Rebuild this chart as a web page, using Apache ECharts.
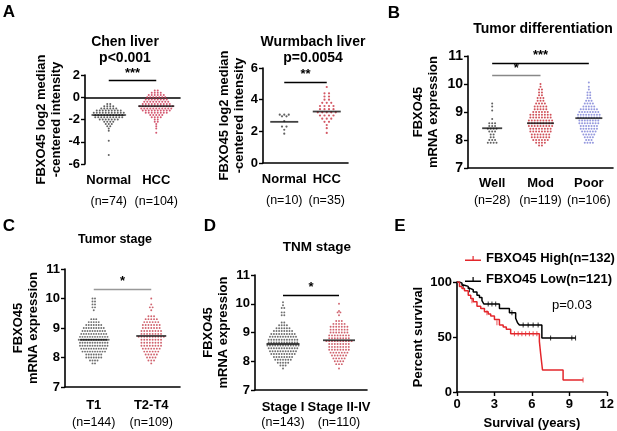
<!DOCTYPE html>
<html>
<head>
<meta charset="utf-8">
<script src="https://cdn.jsdelivr.net/npm/echarts@6/dist/echarts.min.js"></script>
<style>
  html, body { margin: 0; padding: 0; background: #fff; }
  #main { width: 617px; height: 431px; }
</style>
</head>
<body>
<div id="main"></div>
<script>
// ---- data ----
// dot groups: [value, number of dots at that level]
var chenNormal = [[-0.6,2],[-0.8,4],[-1.0,6],[-1.2,9],[-1.4,11],[-1.6,12],[-1.8,10],[-2.0,7],[-2.2,4],[-2.4,3],[-2.6,2],[-2.8,1],[-3.0,1],[-3.9,1],[-5.2,1]];
var chenHcc = [[0.6,2],[0.4,4],[0.2,6],[0.0,7],[-0.2,8],[-0.4,9],[-0.6,10],[-0.8,12],[-1.0,11],[-1.2,10],[-1.4,8],[-1.6,5],[-1.8,4],[-2.0,2],[-2.2,2],[-2.4,1],[-2.6,1],[-2.8,1],[-3.2,1]];
var chenMedian = [-1.6, -0.8];

var wurNormal = [[3.05,3],[2.95,2],[2.65,1],[2.3,2],[2.1,1],[1.85,1]];
var wurHcc = [[4.8,1],[4.4,2],[4.2,2],[4.0,2],[3.8,3],[3.6,4],[3.4,4],[3.2,5],[3.0,4],[2.8,3],[2.6,2],[2.4,1],[2.2,1],[1.9,1]];
var wurMedian = [2.6, 3.25];

var diffWell = [[9.3,1],[9.2,1],[9.05,1],[8.75,1],[8.6,3],[8.5,3],[8.4,4],[8.3,3],[8.2,2],[8.1,2],[8.0,3],[7.9,4]];
var diffMod = [[10.0,1],[9.9,1],[9.8,2],[9.7,2],[9.6,2],[9.5,3],[9.4,3],[9.3,4],[9.2,5],[9.1,5],[9.0,6],[8.9,8],[8.8,8],[8.7,9],[8.6,9],[8.5,9],[8.4,8],[8.3,8],[8.2,7],[8.1,7],[8.0,6],[7.9,4],[7.8,2]];
var diffPoor = [[10.05,1],[9.9,1],[9.8,1],[9.7,2],[9.6,2],[9.5,2],[9.4,3],[9.3,4],[9.2,5],[9.1,7],[9.0,8],[8.9,9],[8.8,9],[8.7,8],[8.6,8],[8.5,7],[8.4,7],[8.3,6],[8.2,5],[8.1,4],[8.0,3],[7.9,4]];
var diffMedian = [8.42, 8.6, 8.78];

var stageT1 = [[10.0,2],[9.9,2],[9.8,2],[9.7,2],[9.6,1],[9.3,3],[9.2,5],[9.1,7],[9.0,9],[8.9,10],[8.8,11],[8.7,12],[8.6,13],[8.5,12],[8.4,12],[8.3,11],[8.2,10],[8.1,7],[8.0,7],[7.9,4],[7.8,2]];
var stageT24 = [[10.0,1],[9.8,1],[9.7,2],[9.6,1],[9.4,3],[9.3,5],[9.2,6],[9.1,7],[9.0,7],[8.9,8],[8.8,8],[8.7,10],[8.6,8],[8.5,8],[8.4,8],[8.3,7],[8.2,6],[8.1,5],[8.0,4],[7.9,3],[7.8,1]];
var stageMedian = [8.6, 8.73];

var tnmI = [[10.05,1],[9.95,1],[9.85,2],[9.7,2],[9.6,2],[9.35,2],[9.25,4],[9.15,6],[9.05,8],[8.95,10],[8.85,11],[8.75,12],[8.65,12],[8.55,13],[8.45,12],[8.35,11],[8.25,10],[8.15,8],[8.05,7],[7.95,5],[7.85,3],[7.75,1]];
var tnmII = [[10.0,1],[9.75,1],[9.7,2],[9.6,1],[9.4,3],[9.3,5],[9.2,7],[9.1,7],[9.0,7],[8.9,8],[8.8,8],[8.7,10],[8.6,8],[8.5,8],[8.4,8],[8.3,7],[8.2,6],[8.1,5],[8.0,4],[7.9,3],[7.75,1]];
var tnmMedian = [8.6, 8.73];

// Kaplan-Meier steps
var kmHighT = [0,0.2,0.4,0.6,0.9,1.1,1.3,1.6,1.9,2.2,2.5,2.7,3.0,3.4,3.7,3.95,4.3,6.6,6.7,6.85,8.5,10.1];
var kmHighS = [100,96,94,92,88,85,82,78,76,73,71,69,66,61,59,57,53,46,35,20,11,11];
var kmLowT = [0,0.2,0.4,0.6,0.9,1.1,1.3,1.6,1.8,2.0,2.15,3.4,4.2,4.7,4.85,5.0,6.8,9.5];
var kmLowS = [100,99,97,96,94,93,91,88,86,83,80,76,72,67,63,61,49,49];
var kmHighCensT = [1.2,2.4,3.2,4.6,4.9,5.2,5.5,5.8,6.1,6.4,10.1];
var kmHighCensS = [83,72,63,53,53,53,53,53,53,53,11];
var kmLowCensT = [0.5,1.0,2.5,2.8,3.1,4.4,5.3,5.7,6.1,6.5,7.5,9.2,9.5];
var kmLowCensS = [96,93,80,80,80,72,61,61,61,61,49,49,49];

var fam = '"Liberation Sans", Arial, sans-serif';

// spread the dots of one level side by side (pixel offsets)
function swarm(bins, cat, pitch) {
    var out = [];
    bins.forEach(function(b) {
        for (var j = 0; j < b[1]; j++) {
            out.push({ value: [cat, b[0]], symbolOffset: [(j - (b[1] - 1) / 2) * pitch, 0] });
        }
    });
    return out;
}

function xCat(gi, cats, ns, lh, margin) {
    return {
        type: 'category', gridIndex: gi, data: cats, boundaryGap: true,
        axisLine: { lineStyle: { color: '#000', width: 1.6 } },
        axisTick: { alignWithLabel: true, length: 4, lineStyle: { color: '#000', width: 1.4 } },
        axisLabel: {
            margin: margin, interval: 0,
            formatter: function(v, i) { return '{c|' + v + '}\n{n|' + ns[i] + '}'; },
            rich: {
                c: { fontWeight: 'bold', fontSize: 13, fontFamily: fam, color: '#000', lineHeight: lh },
                n: { fontSize: 12.5, fontFamily: fam, color: '#000', lineHeight: lh }
            }
        },
        splitLine: { show: false }
    };
}

function yVal(gi, min, max, interval, name, gap, size) {
    return {
        type: 'value', gridIndex: gi, min: min, max: max, interval: interval,
        name: name, nameLocation: 'middle', nameGap: gap, nameRotate: 90,
        nameTextStyle: { fontWeight: 'bold', fontSize: 13, fontFamily: fam, color: '#000', lineHeight: 15 },
        axisLine: { show: true, lineStyle: { color: '#000', width: 1.6 } },
        axisTick: { show: true, length: 4, lineStyle: { color: '#000', width: 1.4 } },
        axisLabel: { fontWeight: 'bold', fontSize: size, fontFamily: fam, color: '#000', margin: 5 },
        splitLine: { show: false }
    };
}

function dots(gi, data, color, size) {
    return {
        type: 'scatter', xAxisIndex: gi, yAxisIndex: gi, data: data, symbol: 'circle',
        symbolSize: size, itemStyle: { color: color }, silent: true, animation: false
    };
}

function medians(gi, meds, widths, sig) {
    return {
        type: 'scatter', xAxisIndex: gi, yAxisIndex: gi, symbol: 'rect', z: 5, silent: true, animation: false,
        data: meds.map(function(m, i) { return { value: [i, m], symbolSize: [widths[i], 1.8] }; }),
        itemStyle: { color: '#111' },
        markLine: {
            silent: true, symbol: 'none', animation: false,
            data: sig.map(function(s) {
                return [
                    { coord: [s[0], s[2]], lineStyle: { color: s[4], width: 1.4, type: 'solid' },
                      label: { show: true, position: 'middle', formatter: s[3], fontSize: 13, fontWeight: 'bold', color: '#000', distance: 1, fontFamily: fam } },
                    { coord: [s[1], s[2]] }
                ];
            }).concat(gi === 0 ? [[
                { coord: [-0.5, 0], lineStyle: { color: '#777', width: 1, type: [1, 2] }, label: { show: false } },
                { coord: [1.5, 0] }
            ]] : [])
        }
    };
}

function pairs(t, s) { return t.map(function(v, i) { return [v, s[i]]; }); }

function txt(x, y, text, size, weight) {
    return { type: 'text', x: x, y: y, silent: true,
        style: { text: text, font: (weight || 'bold') + ' ' + size + 'px ' + fam, fill: '#000', align: 'center', verticalAlign: 'middle' } };
}

var chart = echarts.init(document.getElementById('main'), null, { renderer: 'canvas' });

var option = {
    backgroundColor: '#fff',
    animation: false,
    grid: [
        { left: 85, top: 75, width: 95, height: 89 },
        { left: 263, top: 68, width: 85, height: 95 },
        { left: 468, top: 56, width: 145, height: 112 },
        { left: 65, top: 269, width: 115, height: 118 },
        { left: 255, top: 275, width: 112, height: 115 },
        { left: 457, top: 282, width: 152, height: 110 }
    ],
    xAxis: [
        xCat(0, ['Normal', 'HCC'], ['(n=74)', '(n=104)'], 21, 6),
        xCat(1, ['Normal', 'HCC'], ['(n=10)', '(n=35)'], 21, 6),
        xCat(2, ['Well', 'Mod', 'Poor'], ['(n=28)', '(n=119)', '(n=106)'], 17, 7),
        xCat(3, ['T1', 'T2-T4'], ['(n=144)', '(n=109)'], 18, 9),
        xCat(4, ['Stage I', 'Stage II-IV'], ['(n=143)', '(n=110)'], 16, 9),
        {
            type: 'value', gridIndex: 5, min: 0, max: 12, interval: 3,
            name: 'Survival (years)', nameLocation: 'middle', nameGap: 25,
            nameTextStyle: { fontWeight: 'bold', fontSize: 13, fontFamily: fam, color: '#000' },
            axisLine: { lineStyle: { color: '#000', width: 1.6 } },
            axisTick: { length: 4, lineStyle: { color: '#000', width: 1.4 } },
            axisLabel: { fontWeight: 'bold', fontSize: 13, fontFamily: fam, color: '#000', margin: 6 },
            splitLine: { show: false }
        }
    ],
    yAxis: [
        yVal(0, -6, 2, 2, 'FBXO45 log2 median\n-centered intensity', 21, 13),
        yVal(1, 0, 6, 2, 'FBXO45 log2 median\n-centered intensity', 15, 13),
        yVal(2, 7, 11, 1, 'FBXO45\nmRNA expression', 27.5, 14),
        yVal(3, 7, 11, 1, 'FBXO45\nmRNA expression', 24, 13),
        yVal(4, 7, 11, 1, 'FBXO45\nmRNA expression', 24.5, 13),
        yVal(5, 0, 100, 50, 'Percent survival', 30, 13)
    ],
    legend: {
        data: ['FBXO45 High(n=132)', 'FBXO45 Low(n=121)'],
        orient: 'vertical', left: 460, top: 247, itemGap: 8, itemWidth: 16, itemHeight: 8,
        icon: 'path://M0,3.5 L16,3.5 L16,5 L0,5 Z M7.5,0 L8.7,0 L8.7,5 L7.5,5 Z',
        textStyle: { fontWeight: 'bold', fontSize: 13, fontFamily: fam, color: '#000' }
    },
    graphic: [
        txt(9, 12, 'A', 17), txt(394, 13, 'B', 17), txt(9, 226, 'C', 17), txt(210, 226, 'D', 17), txt(400, 226, 'E', 17),
        txt(125, 42, 'Chen liver', 14), txt(125, 58, 'p<0.001', 14),
        txt(313, 42, 'Wurmbach liver', 14), txt(313, 58, 'p=0.0054', 14),
        txt(543, 29, 'Tumor differentiation', 14),
        txt(115, 240, 'Tumor stage', 12.5),
        txt(317, 247, 'TNM stage', 13.5),
        txt(572, 305, 'p=0.03', 13, 'normal')
    ],
    series: [
        dots(0, swarm(chenNormal, 0, 3.0), '#3a3a3a', 2),
        dots(0, swarm(chenHcc, 1, 3.0), '#c9304e', 2),
        medians(0, chenMedian, [32, 36], [[0, 1, 1.5, '***', '#000']]),

        dots(1, swarm(wurNormal, 0, 4.5), '#3a3a3a', 2.2),
        dots(1, swarm(wurHcc, 1, 4.5), '#c8303e', 2.2),
        medians(1, wurMedian, [28, 28], [[0, 1, 5.1, '**', '#000']]),

        dots(2, swarm(diffWell, 0, 2.9), '#3a3a3a', 2),
        dots(2, swarm(diffMod, 1, 2.9), '#c4262f', 2),
        dots(2, swarm(diffPoor, 2, 2.7), '#7b7fd6', 2),
        medians(2, diffMedian, [20, 27, 27], [[0, 2, 10.75, '***', '#000'], [0, 1, 10.3, '*', '#888']]),

        dots(3, swarm(stageT1, 0, 2.5), '#4a4a4a', 1.9),
        dots(3, swarm(stageT24, 1, 2.8), '#c43c4a', 1.9),
        medians(3, stageMedian, [28, 30], [[0, 1, 10.32, '*', '#999']]),

        dots(4, swarm(tnmI, 0, 2.6), '#4a4a4a', 1.9),
        dots(4, swarm(tnmII, 1, 2.8), '#c43c4a', 1.9),
        medians(4, tnmMedian, [33, 32], [[0, 1, 10.3, '*', '#000']]),

        {
            name: 'FBXO45 High(n=132)', type: 'line', xAxisIndex: 5, yAxisIndex: 5, step: 'end',
            data: pairs(kmHighT, kmHighS), symbol: 'none', color: '#e3262b',
            lineStyle: { color: '#e3262b', width: 1.5 }, z: 3
        },
        {
            name: 'FBXO45 Low(n=121)', type: 'line', xAxisIndex: 5, yAxisIndex: 5, step: 'end',
            data: pairs(kmLowT, kmLowS), symbol: 'none', color: '#000',
            lineStyle: { color: '#000', width: 1.5 }, z: 2
        },
        {
            type: 'scatter', xAxisIndex: 5, yAxisIndex: 5, symbol: 'rect', symbolSize: [1, 5],
            data: pairs(kmHighCensT, kmHighCensS), itemStyle: { color: '#e3262b' }, silent: true
        },
        {
            type: 'scatter', xAxisIndex: 5, yAxisIndex: 5, symbol: 'rect', symbolSize: [1, 5],
            data: pairs(kmLowCensT, kmLowCensS), itemStyle: { color: '#000' }, silent: true
        }
    ]
};

chart.setOption(option);
</script>
</body>
</html>
